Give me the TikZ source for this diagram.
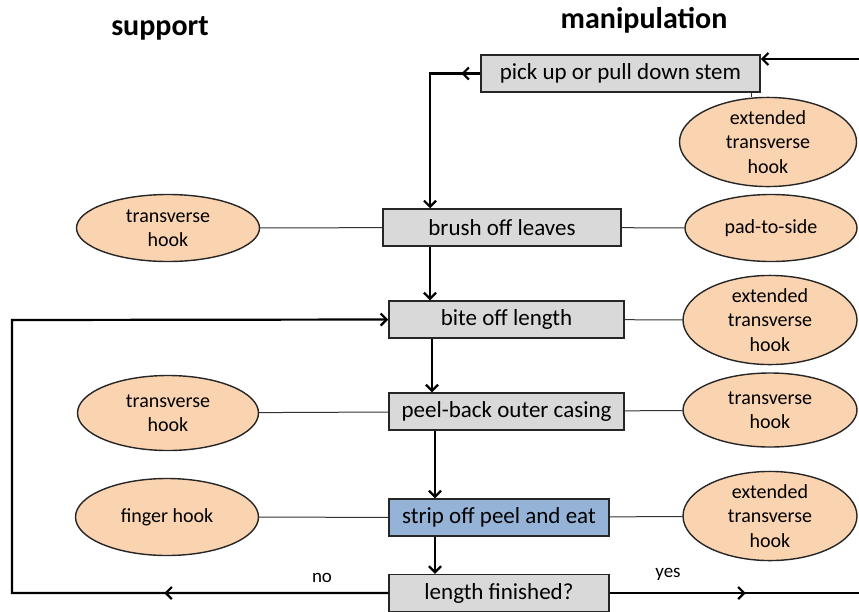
\documentclass[tikz,border=0pt]{standalone}
\usepackage{fontspec}
\setmainfont{Carlito}
\usetikzlibrary{arrows.meta,shapes.geometric,decorations.markings}
\definecolor{peach}{HTML}{FAD3B0}
\definecolor{boxgrey}{HTML}{D9D9D9}
\definecolor{boxblue}{HTML}{95B3D7}
\begin{document}
\begin{tikzpicture}[x=1pt,y=-1pt,
  stepbox/.style={draw=black!85,line width=1.5pt,fill=boxgrey,minimum height=37pt,inner sep=0pt,font=\fontsize{23}{26}\selectfont},
  oval/.style={ellipse,draw=black!85,line width=1.4pt,fill=peach,inner sep=0pt,align=center,font=\fontsize{20}{24.5}\selectfont},
  flow/.style={line width=2.2pt,-{Straight Barb[length=6pt,width=12pt,line width=2.2pt]}},
  link/.style={line width=1pt,black!80},
  midtip/.style={postaction={decorate},decoration={markings,mark=at position #1 with {\arrow[line width=2.2pt]{Straight Barb[length=6pt,width=12pt]}}}},
  head/.style={font=\fontsize{30}{34}\selectfont\bfseries}]
\useasboundingbox (0,0) rectangle (859,611);
\node[head] (hs) at (160,28) {support};
\node[head] (hm) at (644,20) {manipulation};
% steps
\node[stepbox,minimum width=279pt] (pick) at (620.5,73.5) {pick up or pull down stem};
\node[stepbox,minimum width=238pt] (brush) at (502,227.5) {brush off leaves};
\node[stepbox,minimum width=235pt] (bite) at (506.5,319.5) {bite off length};
\node[stepbox,minimum width=235pt] (peel) at (506.5,411.5) {peel-back outer casing};
\node[stepbox,minimum width=220pt,fill=boxblue] (strip) at (499,517.5) {strip off peel and eat};
\node[stepbox,minimum width=220pt] (len) at (499,593) {length finished?};
% ovals
\node[oval,minimum width=177pt,minimum height=72pt] (e1) at (768,142) {extended\\transverse\\hook};
\node[oval,minimum width=183pt,minimum height=67pt] (s1) at (168,228) {transverse\\hook};
\node[oval,minimum width=172pt,minimum height=67pt] (m1) at (771,228) {pad-to-side};
\node[oval,minimum width=174pt,minimum height=75pt] (m2) at (770,320) {extended\\transverse\\hook};
\node[oval,minimum width=181pt,minimum height=75pt] (s2) at (168,413) {transverse\\hook};
\node[oval,minimum width=174pt,minimum height=74pt] (m3) at (770,410) {transverse\\hook};
\node[oval,minimum width=183pt,minimum height=77pt] (s3) at (167,517) {finger hook};
\node[oval,minimum width=174pt,minimum height=77pt] (m4) at (770,516) {extended\\transverse\\hook};
% thin links
\draw[link] (pick.south -| 751,0) -- (e1.north -| 751,0);
\draw[link] (s1) -- (brush);
\draw[link] (brush) -- (m1);
\draw[link] (bite) -- (m2);
\draw[link] (s2) -- (peel);
\draw[link] (peel) -- (m3);
\draw[link] (s3) -- (strip);
\draw[link] (strip) -- (m4);
% flow arrows
\coordinate (inR) at (859,59);
\coordinate (outR) at (859,593);
\draw[flow] (inR) -- (pick.east |- inR);
\draw[flow,midtip=19pt] (pick.west) -- (430,73.5) -- (brush.north -| 430,0);
\draw[flow] (brush.south -| 430,0) -- (bite.north -| 430,0);
\draw[flow] (bite.south -| 432,0) -- (peel.north -| 432,0);
\draw[flow] (peel.south -| 435,0) -- (strip.north -| 435,0);
\draw[flow] (strip.south -| 435,0) -- (len.north -| 435,0);
\draw[flow,midtip=224pt] (len.west) -- (12,593) -- (12,320) -- (bite.west);
\draw[line width=2.2pt,midtip=136pt] (len.east) -- (outR);
\node[font=\fontsize{19}{22}\selectfont] (no) at (322,578) {no};
\node[font=\fontsize{19}{22}\selectfont] (yes) at (668,574) {yes};
\end{tikzpicture}
\end{document}
